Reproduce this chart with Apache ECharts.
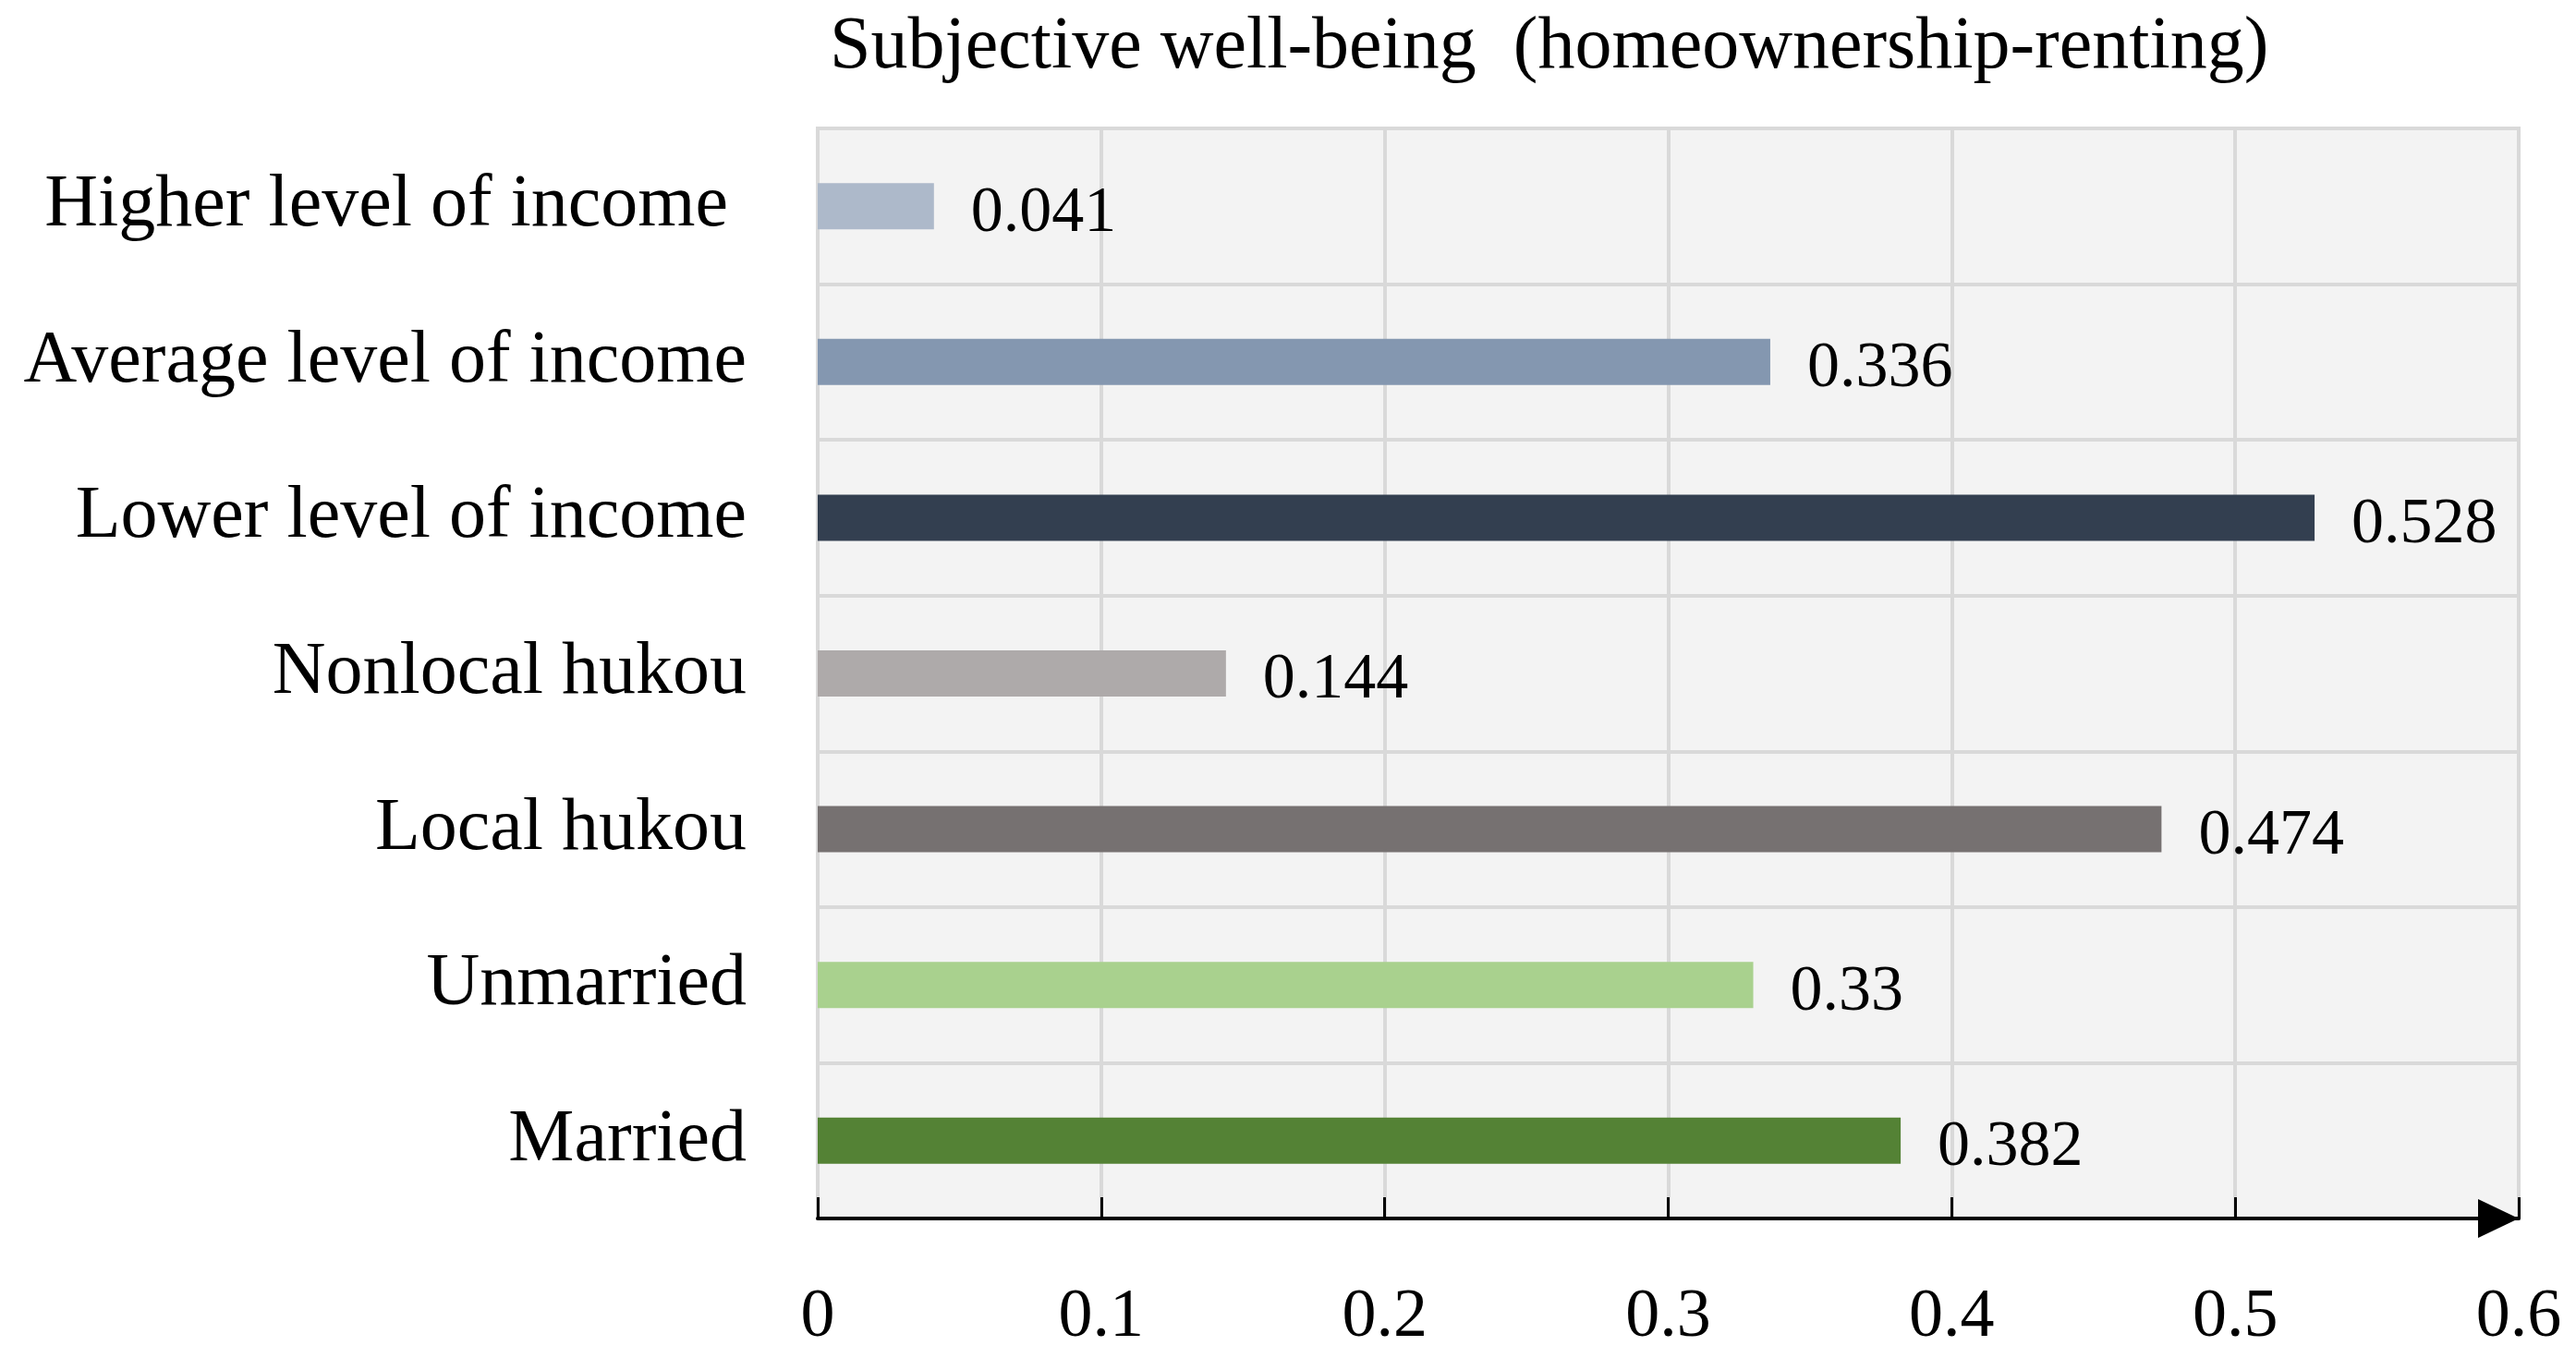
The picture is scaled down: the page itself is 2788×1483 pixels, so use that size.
<!DOCTYPE html>
<html>
<head>
<meta charset="utf-8">
<script src="https://cdn.jsdelivr.net/npm/echarts@6/dist/echarts.min.js"></script>
<style>
html,body{margin:0;padding:0;background:#fff;}
#chart{width:2788px;height:1483px;}
</style>
</head>
<body>
<div id="chart"></div>
<script>
const titleText = 'Subjective well-being  (homeownership-renting)';
const categories = ['Higher level of income ', 'Average level of income', 'Lower level of income', 'Nonlocal hukou', 'Local hukou', 'Unmarried', 'Married'];
const values = [0.041, 0.336, 0.528, 0.144, 0.474, 0.33, 0.382];
const barColors = ['#adb9ca', '#8497b0', '#333f50', '#aeaaaa', '#767171', '#a9d18e', '#548235'];
const xTicks = [0, 0.1, 0.2, 0.3, 0.4, 0.5, 0.6];

const FONT = '"Liberation Serif", "DejaVu Serif", serif';
const chart = echarts.init(document.getElementById('chart'));
chart.setOption({
  backgroundColor: '#ffffff',
  animation: false,
  title: {
    text: titleText,
    left: 893,
    top: 7,
    textStyle: {fontFamily: FONT, fontSize: 80, fontWeight: 'normal', color: '#000'}
  },
  grid: {
    left: 885, right: 62, top: 139, bottom: 164,
    show: true, backgroundColor: '#f3f3f3', borderColor: '#d9d9d9', borderWidth: 4
  },
  xAxis: {
    type: 'value',
    min: xTicks[0], max: xTicks[xTicks.length - 1], interval: 0.1,
    axisLine: {show: true, lineStyle: {color: '#000', width: 4},
      symbol: ['none', 'triangle'], symbolSize: [42, 44], symbolOffset: [0, -22]},
    axisTick: {show: true, inside: true, length: 23, lineStyle: {color: '#000', width: 3}},
    axisLabel: {fontFamily: FONT, fontSize: 74, color: '#000', margin: 71},
    splitLine: {show: true, lineStyle: {color: '#d9d9d9', width: 4}}
  },
  yAxis: {
    type: 'category',
    data: categories,
    inverse: true,
    axisLine: {show: false},
    axisTick: {show: false},
    axisLabel: {fontFamily: FONT, fontSize: 80, color: '#000', margin: 77, padding: [10, 0, 0, 0]},
    splitLine: {show: true, lineStyle: {color: '#d9d9d9', width: 4}}
  },
  series: [{
    type: 'bar',
    barWidth: 50,
    data: values.map((v, i) => ({value: v, itemStyle: {color: barColors[i]}})),
    label: {show: true, position: 'right', distance: 40, fontFamily: FONT, fontSize: 70, color: '#000', offset: [0, 8]}
  }]
});
</script>
</body>
</html>
